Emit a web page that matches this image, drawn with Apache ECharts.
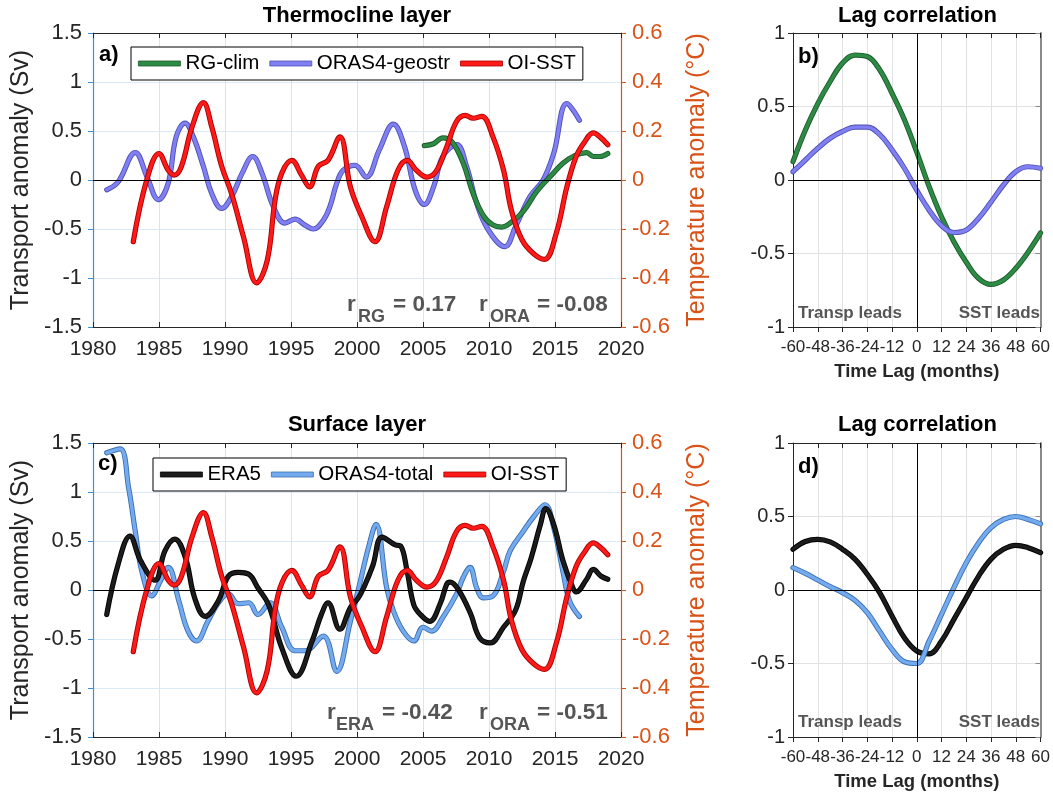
<!DOCTYPE html>
<html>
<head>
<meta charset="utf-8">
<script src="https://cdn.jsdelivr.net/npm/echarts@6/dist/echarts.min.js"></script>
<style>
html,body{margin:0;padding:0;background:#fff;}
#chart{width:1053px;height:792px;}
</style>
</head>
<body>
<div id="chart"></div>
<script>
// ---------------- DATA ----------------
// Panel a (thermocline layer), transport anomaly (Sv)
const geostrYears = [1981.04,1981.9,1983.2,1984.1,1984.95,1985.7,1986.3,1986.97,1987.6,1988.36,1989.0,1989.75,1990.5,1991.3,1992.1,1992.8,1993.66,1994.55,1995.3,1996.06,1996.7,1997.45,1997.95,1998.45,1998.96,1999.85,2000.7,2001.7,2002.75,2003.6,2004.4,2005.1,2005.8,2006.5,2007.55,2008.3,2009.07,2009.95,2011.2,2012.0,2013.1,2014.1,2014.9,2015.9,2016.85];
const geostrValues = [-0.10,-0.02,0.28,0.03,-0.20,-0.03,0.44,0.58,0.44,0.14,-0.14,-0.29,-0.17,0.07,0.24,0.07,-0.27,-0.44,-0.40,-0.46,-0.50,-0.41,-0.27,-0.04,0.10,0.15,0.03,0.31,0.57,0.34,-0.10,-0.25,-0.07,0.24,0.36,0.14,-0.24,-0.51,-0.68,-0.48,-0.17,0.00,0.27,0.78,0.61];

const rgYears = [2005.1,2005.8,2006.5,2007.2,2008.05,2008.8,2009.6,2010.3,2010.96,2011.7,2012.6,2013.6,2014.6,2015.6,2016.5,2017.4,2017.9,2018.4,2019.0];
const rgValues = [0.35,0.37,0.43,0.39,0.17,-0.14,-0.37,-0.46,-0.48,-0.43,-0.32,-0.12,0.03,0.17,0.25,0.28,0.24,0.24,0.27];

// OI-SST temperature anomaly (deg C), same in both time-series panels
const sstYears = [1983.05,1984.07,1985.0,1985.7,1986.16,1986.7,1987.5,1988.36,1989.0,1989.75,1990.5,1991.4,1992.4,1993.2,1993.8,1994.3,1995.05,1995.8,1996.4,1997.07,1997.8,1998.7,1999.5,2000.35,2001.36,2002.25,2003.1,2003.8,2004.5,2005.3,2006.0,2006.8,2007.55,2008.2,2008.8,2009.45,2010.3,2011.1,2011.7,2012.5,2013.36,2014.2,2015.1,2015.9,2016.6,2017.2,2017.9,2018.4,2019.0];
const sstValues = [-0.252,0.000,0.108,0.040,0.020,0.056,0.216,0.316,0.216,0.056,-0.056,-0.232,-0.420,-0.328,-0.080,0.028,0.080,0.020,-0.028,0.056,0.080,0.176,-0.028,-0.148,-0.252,-0.108,0.040,0.080,0.040,0.012,0.036,0.136,0.240,0.264,0.252,0.260,0.176,0.040,-0.124,-0.244,-0.300,-0.324,-0.216,-0.028,0.096,0.152,0.192,0.176,0.144];

// Panel c (surface layer), transport anomaly (Sv)
const era5Years = [1981.04,1981.9,1982.8,1983.6,1984.7,1985.45,1986.2,1987.0,1987.7,1988.5,1989.5,1990.25,1991.0,1991.8,1992.5,1993.3,1994.3,1995.4,1996.6,1997.3,1997.8,1998.7,1999.5,2000.1,2000.5,2001.2,2001.9,2002.9,2003.3,2003.8,2004.3,2004.8,2005.5,2006.3,2006.8,2007.05,2007.65,2008.6,2009.3,2010.1,2011.1,2012.0,2012.6,2013.2,2013.9,2014.3,2014.9,2015.6,2016.3,2016.6,2017.4,2017.9,2018.5,2019.0];
const era5Values = [-0.25,0.26,0.55,0.30,0.10,0.40,0.52,0.33,-0.08,-0.27,-0.11,0.14,0.18,0.16,0.02,-0.15,-0.59,-0.88,-0.52,-0.25,-0.13,-0.40,-0.18,-0.08,0.02,0.25,0.54,0.46,0.45,0.19,-0.15,-0.25,-0.32,-0.14,0.06,0.08,0.01,-0.24,-0.49,-0.54,-0.38,-0.21,0.09,0.33,0.67,0.83,0.67,0.30,0.04,-0.02,0.11,0.21,0.14,0.11];

const totalYears = [1981.04,1982.05,1982.7,1983.2,1983.7,1984.45,1985.1,1985.7,1986.5,1987.2,1987.85,1988.7,1989.5,1990.25,1991.0,1991.8,1992.5,1993.4,1994.3,1995.3,1996.05,1997.45,1998.46,1999.5,2000.2,2000.86,2001.44,2002.25,2002.75,2003.5,2004.3,2005.0,2005.65,2006.5,2007.55,2008.05,2008.56,2009.07,2009.57,2010.3,2011.1,2011.6,2012.6,2013.4,2014.24,2014.9,2015.6,2016.1,2016.85];
const totalValues = [1.40,1.44,1.04,0.60,0.19,-0.06,0.09,0.23,-0.11,-0.42,-0.52,-0.32,-0.13,-0.04,-0.14,-0.13,-0.25,-0.13,-0.38,-0.62,-0.62,-0.47,-0.83,-0.32,0.06,0.43,0.67,0.02,-0.21,-0.42,-0.52,-0.38,-0.42,-0.28,-0.04,0.13,0.23,0.02,-0.08,-0.06,0.19,0.40,0.60,0.75,0.87,0.64,0.19,-0.11,-0.27];

// Lag correlations (panels b, d)
const lags = [-60,-54,-48,-42,-36,-30,-24,-18,-12,-6,0,6,12,18,24,30,36,42,48,54,60];
const rgLagCorr = [0.125,0.34,0.52,0.67,0.795,0.85,0.84,0.75,0.59,0.41,0.19,-0.045,-0.25,-0.42,-0.56,-0.67,-0.71,-0.68,-0.60,-0.49,-0.36];
const geostrLagCorr = [0.057,0.136,0.216,0.284,0.33,0.36,0.36,0.31,0.205,0.08,-0.07,-0.205,-0.31,-0.357,-0.34,-0.26,-0.15,-0.034,0.057,0.09,0.08];
const era5LagCorr = [0.277,0.33,0.345,0.327,0.277,0.21,0.107,-0.018,-0.177,-0.325,-0.415,-0.434,-0.347,-0.20,-0.052,0.095,0.21,0.277,0.304,0.288,0.254];
const totalLagCorr = [0.152,0.113,0.068,0.023,-0.018,-0.07,-0.154,-0.28,-0.404,-0.488,-0.50,-0.347,-0.166,0.016,0.186,0.322,0.425,0.48,0.50,0.48,0.45];

// Tick settings
const yearTicks = {min:1980, max:2020, interval:5};
const svTicks = {min:-1.5, max:1.5, interval:0.5};
const tempTicks = {min:-0.6, max:0.6, interval:0.2};
const lagTicks = {min:-60, max:60, interval:12};
const corrTicks = {min:-1, max:1, interval:0.5};

// ---------------- STYLE ----------------
const FONT = '"Liberation Sans", Arial, Helvetica, sans-serif';
const DARK = '#262626';
const BLUE_AX = '#3f8fd4';
const ORANGE = '#D95319';
const GRIDGRAY = '#e2e2e2';
const GRIDBLUE = '#dce9f6';

const C = {
  rg: ['#2e8b45', '#1b5a2b'],
  geo: ['#8080f2', '#4f4fb5'],
  sst: ['#ff1a1a', '#a80000'],
  era: ['#1c1c1c', '#000000'],
  tot: ['#74aaee', '#3b6fb3']
};

function pairs(xs, vs){ return xs.map((x,i)=>[x, vs[i]]); }

function lineSeries(name, xs, vs, xi, yi, col, z, extra){
  const data = pairs(xs, vs);
  const out = [{
    name: name + ' edge', type:'line', xAxisIndex:xi, yAxisIndex:yi, data: data,
    smooth:0.4, symbol:'none', silent:true, z:z, animation:false,
    lineStyle:{color:col[1], width:5.2, cap:'round', join:'round'}, color:col[1]
  },{
    name: name, type:'line', xAxisIndex:xi, yAxisIndex:yi, data: data,
    smooth:0.4, symbol:'none', silent:true, z:z+0.5, animation:false,
    lineStyle:{color:col[0], width:3.4, cap:'round', join:'round'}, color:col[0]
  }];
  if (extra) Object.assign(out[0], extra);
  return out;
}

const zeroLineStyle = {color:'#000', width:1, type:'solid'};
function zeroMark(withX){
  const d = [{yAxis:0}];
  if (withX) d.push({xAxis:0});
  return {markLine:{silent:true, symbol:['none','none'], label:{show:false}, animation:false,
    lineStyle:zeroLineStyle, data:d}};
}

const fmt1 = v => String(Math.round(v*10)/10);
const fmtInt = v => String(Math.round(v));

function xBottom(grid, ticks, tickInside, fs, nameObj){
  const a = Object.assign({gridIndex:grid, type:'value', position:'bottom'}, ticks, {
    axisLine:{show:true, onZero:false, lineStyle:{color:DARK, width:1}},
    axisTick:{show:true, inside:tickInside, length:5, lineStyle:{color:DARK}},
    axisLabel:{fontSize:fs, color:DARK, margin:12, fontFamily:FONT, formatter:fmtInt,
      showMinLabel:true, showMaxLabel:true, hideOverlap:false, interval:0},
    splitLine:{show:true, lineStyle:{color:GRIDGRAY, width:1}}
  });
  if (nameObj) Object.assign(a, nameObj);
  return a;
}
function xTop(grid, ticks){
  return Object.assign({gridIndex:grid, type:'value', position:'top'}, ticks, {
    axisLine:{show:true, onZero:false, lineStyle:{color:DARK, width:1}},
    axisTick:{show:true, inside:true, length:5, lineStyle:{color:DARK}},
    axisLabel:{show:false}, splitLine:{show:false}
  });
}

function svAxis(grid){
  return Object.assign({gridIndex:grid, type:'value', position:'left'}, svTicks, {
    name:'Transport anomaly (Sv)', nameLocation:'middle', nameGap:58, nameRotate:90,
    nameTextStyle:{fontSize:25, color:DARK, fontFamily:FONT},
    axisLine:{show:true, onZero:false, lineStyle:{color:BLUE_AX, width:1.2}},
    axisTick:{show:true, inside:false, length:5, lineStyle:{color:BLUE_AX}},
    axisLabel:{fontSize:22, color:DARK, margin:11, fontFamily:FONT, formatter:fmt1,
      showMinLabel:true, showMaxLabel:true},
    splitLine:{show:true, lineStyle:{color:GRIDBLUE, width:1}}
  });
}
function tempAxis(grid){
  return Object.assign({gridIndex:grid, type:'value', position:'right'}, tempTicks, {
    name:'Temperature anomaly (°C)', nameLocation:'middle', nameGap:64, nameRotate:90,
    nameTextStyle:{fontSize:25, color:ORANGE, fontFamily:FONT},
    axisLine:{show:true, onZero:false, lineStyle:{color:ORANGE, width:1.2}},
    axisTick:{show:true, inside:false, length:5, lineStyle:{color:ORANGE}},
    axisLabel:{fontSize:22, color:ORANGE, margin:11, fontFamily:FONT, formatter:fmt1,
      showMinLabel:true, showMaxLabel:true},
    splitLine:{show:false}
  });
}
function corrAxis(grid){
  return Object.assign({gridIndex:grid, type:'value', position:'left'}, corrTicks, {
    axisLine:{show:true, onZero:false, lineStyle:{color:DARK, width:1}},
    axisTick:{show:true, inside:false, length:5, lineStyle:{color:DARK}},
    axisLabel:{fontSize:20, color:DARK, margin:8, fontFamily:FONT, formatter:fmt1,
      showMinLabel:true, showMaxLabel:true},
    splitLine:{show:true, lineStyle:{color:GRIDGRAY, width:1}}
  });
}
function corrRight(grid){
  return Object.assign({gridIndex:grid, type:'value', position:'right'}, corrTicks, {
    axisLine:{show:true, onZero:false, lineStyle:{color:'#8a8a8a', width:2}},
    axisTick:{show:true, inside:true, length:5, lineStyle:{color:'#8a8a8a'}},
    axisLabel:{show:false}, splitLine:{show:false}
  });
}

const lagName = {name:'Time Lag (months)', nameLocation:'middle', nameGap:35,
  nameTextStyle:{fontSize:18.5, fontWeight:'bold', color:DARK, fontFamily:FONT}};

function txt(x, y, s, font, fill, align){
  return {type:'text', x:x, y:y, z:100, silent:true,
    style:{text:s, font:font, fill:fill, align:align||'left', verticalAlign:'middle'}};
}
const GRAYTXT = '#555555';
const fMain = 'bold 22.5px ' + FONT;
const fSub = 'bold 18px ' + FONT;
const fLead = 'bold 17px ' + FONT;
const fPanel = 'bold 22px ' + FONT;

const legendCommon = {
  orient:'horizontal', backgroundColor:'#fff', borderColor:'#000', borderWidth:1,
  padding:[6,7], itemWidth:42, itemHeight:5, itemGap:10, icon:'rect',
  textStyle:{fontSize:20.5, color:'#000', fontFamily:FONT, padding:[0,0,0,0]},
  selectedMode:false
};

const option = {
  backgroundColor:'#fff',
  animation:false,
  textStyle:{fontFamily:FONT},
  title:[
    {text:'Thermocline layer', left:357, top:5, textAlign:'center', padding:0, textStyle:{fontSize:22, fontWeight:'bold', color:'#000', fontFamily:FONT}},
    {text:'Lag correlation', left:917.5, top:5, textAlign:'center', padding:0, textStyle:{fontSize:22, fontWeight:'bold', color:'#000', fontFamily:FONT}},
    {text:'Surface layer', left:357, top:414, textAlign:'center', padding:0, textStyle:{fontSize:22, fontWeight:'bold', color:'#000', fontFamily:FONT}},
    {text:'Lag correlation', left:917.5, top:414, textAlign:'center', padding:0, textStyle:{fontSize:22, fontWeight:'bold', color:'#000', fontFamily:FONT}}
  ],
  grid:[
    {left:93, top:33, width:528, height:294},
    {left:793, top:33, width:249, height:294},
    {left:93, top:443, width:528, height:294},
    {left:793, top:443, width:249, height:294}
  ],
  legend:[
    Object.assign({}, legendCommon, {left:131, top:47,
      data:[{name:'RG-clim', itemStyle:{borderColor:C.rg[1], borderWidth:0.8}},
            {name:'ORAS4-geostr', itemStyle:{borderColor:C.geo[1], borderWidth:0.8}},
            {name:'OI-SST', itemStyle:{borderColor:C.sst[1], borderWidth:0.8}}]}),
    Object.assign({}, legendCommon, {left:153, top:458,
      data:[{name:'ERA5', itemStyle:{borderColor:C.era[1], borderWidth:0.8}},
            {name:'ORAS4-total', itemStyle:{borderColor:C.tot[1], borderWidth:0.8}},
            {name:'OI-SST', itemStyle:{borderColor:C.sst[1], borderWidth:0.8}}]})
  ],
  xAxis:[
    xBottom(0, yearTicks, true, 21),
    xTop(0, yearTicks),
    xBottom(1, lagTicks, false, 17, lagName),
    xTop(1, lagTicks),
    xBottom(2, yearTicks, true, 21),
    xTop(2, yearTicks),
    xBottom(3, lagTicks, false, 17, lagName),
    xTop(3, lagTicks)
  ],
  yAxis:[
    svAxis(0), tempAxis(0),
    corrAxis(1), corrRight(1),
    svAxis(2), tempAxis(2),
    corrAxis(3), corrRight(3)
  ],
  series:[].concat(
    // panel a
    lineSeries('ORAS4-geostr', geostrYears, geostrValues, 0, 0, C.geo, 2, zeroMark(false)),
    lineSeries('RG-clim', rgYears, rgValues, 0, 0, C.rg, 3),
    lineSeries('OI-SST', sstYears, sstValues, 0, 1, C.sst, 4),
    // panel b
    lineSeries('RG-clim', lags, rgLagCorr, 2, 2, C.rg, 2, zeroMark(true)),
    lineSeries('ORAS4-geostr', lags, geostrLagCorr, 2, 2, C.geo, 3),
    // panel c
    lineSeries('ORAS4-total', totalYears, totalValues, 4, 4, C.tot, 2, zeroMark(false)),
    lineSeries('ERA5', era5Years, era5Values, 4, 4, C.era, 3),
    lineSeries('OI-SST', sstYears, sstValues, 4, 5, C.sst, 4),
    // panel d
    lineSeries('ERA5', lags, era5LagCorr, 6, 6, C.era, 2, zeroMark(true)),
    lineSeries('ORAS4-total', lags, totalLagCorr, 6, 6, C.tot, 3)
  ),
  graphic:[
    txt(99, 55, 'a)', fPanel, '#000'),
    txt(798, 57, 'b)', fPanel, '#000'),
    txt(98, 464, 'c)', fPanel, '#000'),
    txt(798, 467, 'd)', fPanel, '#000'),
    // correlation annotations panel a
    txt(347, 305, 'r', fMain, GRAYTXT),
    txt(358, 317, 'RG', fSub, GRAYTXT),
    txt(393, 305, '= 0.17', fMain, GRAYTXT),
    txt(479, 305, 'r', fMain, GRAYTXT),
    txt(490, 317, 'ORA', fSub, GRAYTXT),
    txt(537, 305, '= -0.08', fMain, GRAYTXT),
    // panel c
    txt(327, 713, 'r', fMain, GRAYTXT),
    txt(336, 725, 'ERA', fSub, GRAYTXT),
    txt(382, 713, '= -0.42', fMain, GRAYTXT),
    txt(479, 713, 'r', fMain, GRAYTXT),
    txt(490, 725, 'ORA', fSub, GRAYTXT),
    txt(537, 713, '= -0.51', fMain, GRAYTXT),
    // leads
    txt(798, 313, 'Transp leads', fLead, GRAYTXT),
    txt(1040, 313, 'SST leads', fLead, GRAYTXT, 'right'),
    txt(798, 722, 'Transp leads', fLead, GRAYTXT),
    txt(1040, 722, 'SST leads', fLead, GRAYTXT, 'right')
  ]
};

const chart = echarts.init(document.getElementById('chart'), null, {renderer:'canvas'});
chart.setOption(option);
</script>
</body>
</html>
